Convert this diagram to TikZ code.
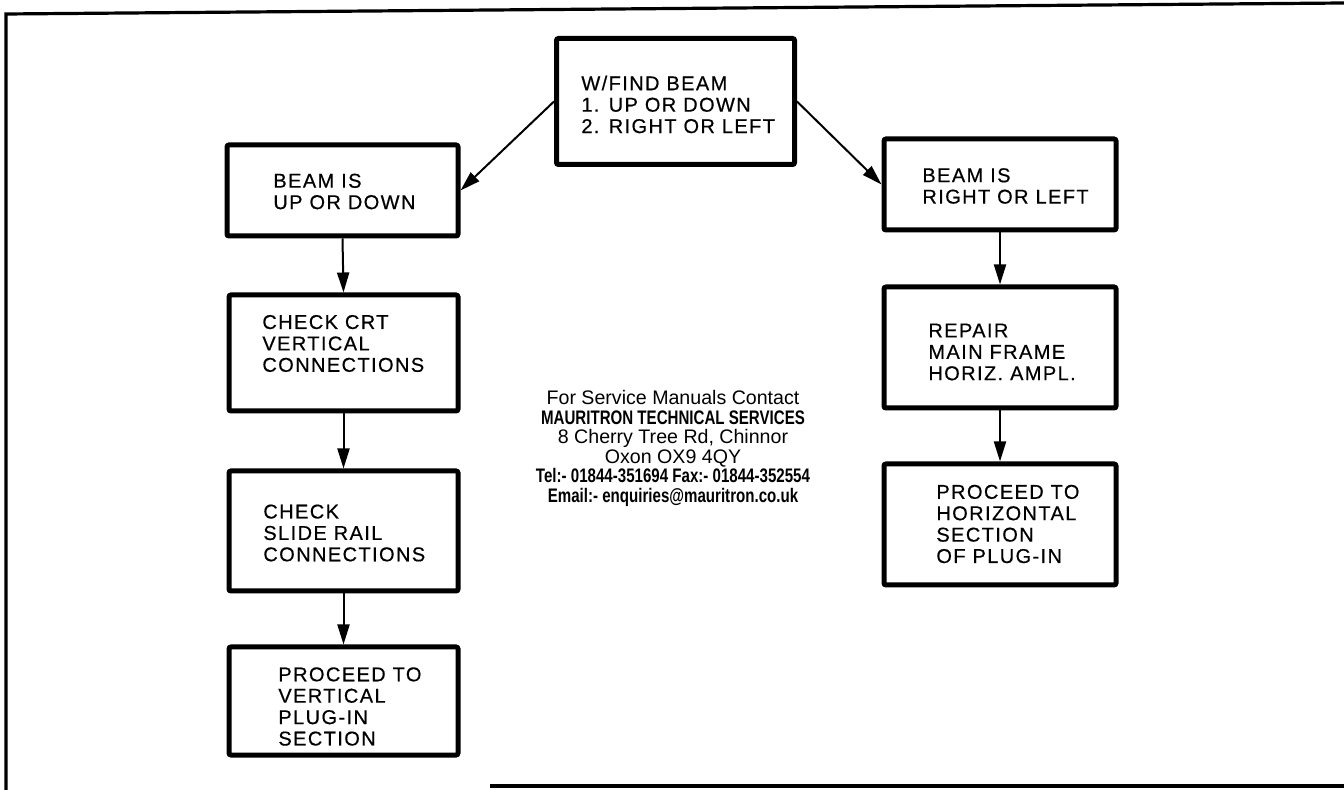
\documentclass[tikz,border=0pt]{standalone}
\usepackage{fontspec}
\setmainfont{Liberation Sans}
\newfontfamily\boxfont{Liberation Sans}[LetterSpace=7, FakeBold=0.5]
\newfontfamily\condfont{Liberation Sans}[FakeStretch=0.77]
\usetikzlibrary{arrows.meta}
\begin{document}
\begin{tikzpicture}[x=0.5pt,y=-0.5pt,
  box/.style={draw, line width=2.5pt, rounded corners=1pt, inner sep=0pt},
  txt/.style={inner sep=0pt, anchor=west, align=left, font=\boxfont\fontsize{10}{10.7}\selectfont},
  arr/.style={line width=1pt, -{Triangle[length=10pt,width=6pt]}},
  frame/.style={line width=1.6pt},
  info/.style={inner sep=0pt, align=center, font=\fontsize{9.8}{9.75}\selectfont}]
\useasboundingbox (0,0) rectangle (1344,790);
% frame
\draw[frame] (6,790) -- (6,14) -- (1344,3);
\draw[frame] (490,786) -- (1344,786);
% boxes
\node[box, minimum width=119pt, minimum height=63pt] (top) at (675.5,101.5) {};
\node[box, minimum width=115.5pt, minimum height=45.5pt] (l1) at (342.5,190.5) {};
\node[box, minimum width=114.5pt, minimum height=58pt] (l2) at (343.5,353) {};
\node[box, minimum width=114.5pt, minimum height=60pt] (l3) at (343.5,531) {};
\node[box, minimum width=114.5pt, minimum height=54pt] (l4) at (343.5,701) {};
\node[box, minimum width=116pt, minimum height=45.5pt] (r1) at (1000,184.5) {};
\node[box, minimum width=116pt, minimum height=60.5pt] (r2) at (1000,347.5) {};
\node[box, minimum width=116pt, minimum height=60.5pt] (r3) at (1000,524.5) {};
% texts
\node[txt] (topt) at (581,104.5) {W/FIND BEAM\\1. UP OR DOWN\\2. RIGHT OR LEFT};
\node[txt] (l1t) at (273,191.5) {BEAM IS\\UP OR DOWN};
\node[txt] (l2t) at (262,343.5) {CHECK CRT\\VERTICAL\\CONNECTIONS};
\node[txt] (l3t) at (263,533) {CHECK\\SLIDE RAIL\\CONNECTIONS};
\node[txt] (l4t) at (278,706.5) {PROCEED TO\\VERTICAL\\PLUG-IN\\SECTION};
\node[txt] (r1t) at (922,186) {BEAM IS\\RIGHT OR LEFT};
\node[txt] (r2t) at (928,352) {REPAIR\\MAIN FRAME\\HORIZ. AMPL.};
\node[txt] (r3t) at (936,524) {PROCEED TO\\HORIZONTAL\\SECTION\\OF PLUG-IN};
% info
\node[info] (info) at (673,448.5) {For Service Manuals Contact\\
{\condfont\bfseries MAURITRON TECHNICAL SERVICES}\\
8 Cherry Tree Rd, Chinnor\\
Oxon OX9 4QY\\
{\condfont\bfseries Tel:- 01844-351694 Fax:- 01844-352554}\\
{\condfont\bfseries Email:- enquiries@mauritron.co.uk}};
% connectors
\draw[arr] (top.west) -- (l1.east);
\draw[arr] (top.east) -- (r1.west);
\draw[arr] (l1.south) -- (l2.north);
\draw[arr] (l2.south) -- (l3.north);
\draw[arr] (l3.south) -- (l4.north);
\draw[arr] (r1.south) -- (r2.north);
\draw[arr] (r2.south) -- (r3.north);
\end{tikzpicture}
\end{document}
